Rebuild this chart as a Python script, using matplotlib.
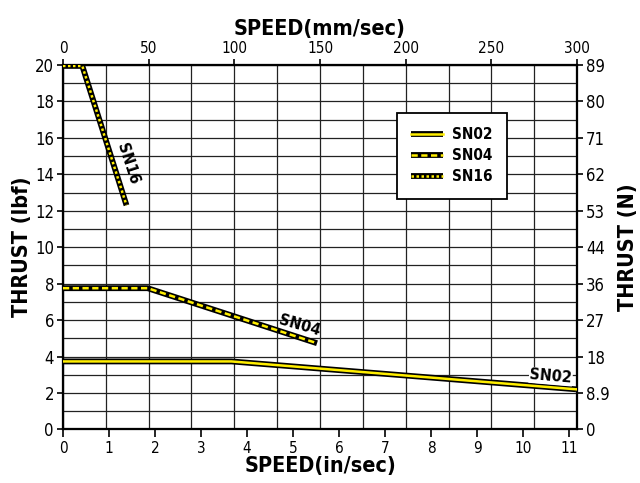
import matplotlib
matplotlib.use("Agg")
import matplotlib.pyplot as plt

plt.rcParams['font.family'] = ['DejaVu Sans']
plt.rcParams['font.stretch'] = 'condensed'

# thrust curves, speed in in/sec, thrust in lbf
sn02_x = [0, 3.66, 11.15]
sn02_y = [3.73, 3.73, 2.2]
sn04_x = [0, 1.84, 5.52]
sn04_y = [7.75, 7.75, 4.73]
sn16_x = [0, 0.42, 1.38]
sn16_y = [19.95, 19.95, 12.3]

left_ticks = list(range(0, 21, 2))
right_labels = ['0', '8.9', '18', '27', '36', '44', '53', '62', '71', '80', '89']
top_ticks = list(range(0, 301, 50))
bottom_ticks = list(range(0, 12))

fig = plt.figure(figsize=(6.4, 4.83), dpi=100)
ax = fig.add_axes([0.0984, 0.111, 0.8032, 0.7544])
ax_top = ax.twiny()
ax_right = ax.twinx()

xmax = 11.17
ax.set_xlim(0, xmax)
ax.set_ylim(0, 20)
ax_top.set_xlim(0, 300)
ax_right.set_ylim(0, 20)

# grids: horizontal every 1 lbf, vertical every 25 mm/sec
ax.set_yticks(left_ticks)
ax.set_yticks(range(1, 20, 2), minor=True)
ax.tick_params(axis='y', which='minor', length=0)
ax.grid(True, axis='y', which='both', color='#222222', lw=0.9)
ax.set_axisbelow(True)
ax_top.set_xticks(top_ticks)
ax_top.set_xticks(range(25, 300, 50), minor=True)
ax_top.tick_params(axis='x', which='minor', length=0)
ax_top.grid(True, axis='x', which='both', color='#222222', lw=0.9)

ax.set_xticks(bottom_ticks)
ax_right.set_yticks(left_ticks)
ax_right.set_yticklabels(right_labels)

for a in (ax, ax_top, ax_right):
    a.tick_params(direction='out', length=4.5, width=1.2, colors='black', pad=2)
    for s in a.spines.values():
        s.set_linewidth(1.5)
ax.tick_params(axis='y', labelsize=12)
ax_right.tick_params(axis='y', labelsize=12)
ax.tick_params(axis='x', labelsize=11, length=5.5, pad=3)
ax_top.tick_params(axis='x', labelsize=11)

ax.set_zorder(ax_top.get_zorder() + 2)
ax.patch.set_visible(False)

def curve(x, y, style, label):
    b, = ax.plot(x, y, color='black', lw=4.2, solid_capstyle='butt', zorder=3)
    yl, = ax.plot(x, y, color='#ffee00', lw=1.8, zorder=4)
    if style == 'dash':
        yl.set_dashes((2.5, 1.4))
    elif style == 'dot':
        yl.set_dashes((1, 1))
    return (b, yl), label

h1 = curve(sn02_x, sn02_y, 'solid', 'SN02')
h2 = curve(sn04_x, sn04_y, 'dash', 'SN04')
h3 = curve(sn16_x, sn16_y, 'dot', 'SN16')

leg = ax.legend([h1[0], h2[0], h3[0]], [h1[1], h2[1], h3[1]],
                loc='upper left', bbox_to_anchor=(0.649, 0.869),
                frameon=True, fancybox=False, edgecolor='black', framealpha=1,
                prop={'weight': 'bold', 'size': 11, 'stretch': 'condensed'},
                handlelength=2.1, borderpad=0.95, labelspacing=0.4,
                handletextpad=0.55, borderaxespad=0)
leg.get_frame().set_linewidth(1.3)
leg.set_zorder(10)

lbl = dict(fontsize=11.5, fontweight='bold', ha='center', va='center', zorder=6)
ax.text(1.42, 14.6, 'SN16', rotation=-72, **lbl)
ax.text(5.15, 5.7, 'SN04', rotation=-16, **lbl)
ax.text(10.6, 2.9, 'SN02', rotation=-5,
        bbox=dict(facecolor='white', edgecolor='none', pad=0.5), **lbl)

ax.set_xlabel('SPEED(in/sec)', fontsize=15.5, fontweight='bold', labelpad=0)
ax_top.set_xlabel('SPEED(mm/sec)', fontsize=15.5, fontweight='bold', labelpad=4)
ax.set_ylabel('THRUST (lbf)', fontsize=15.5, fontweight='bold', labelpad=2)
ax_right.set_ylabel('THRUST (N)', fontsize=15.5, fontweight='bold', labelpad=6)

fig.savefig('out.png', dpi=100)
